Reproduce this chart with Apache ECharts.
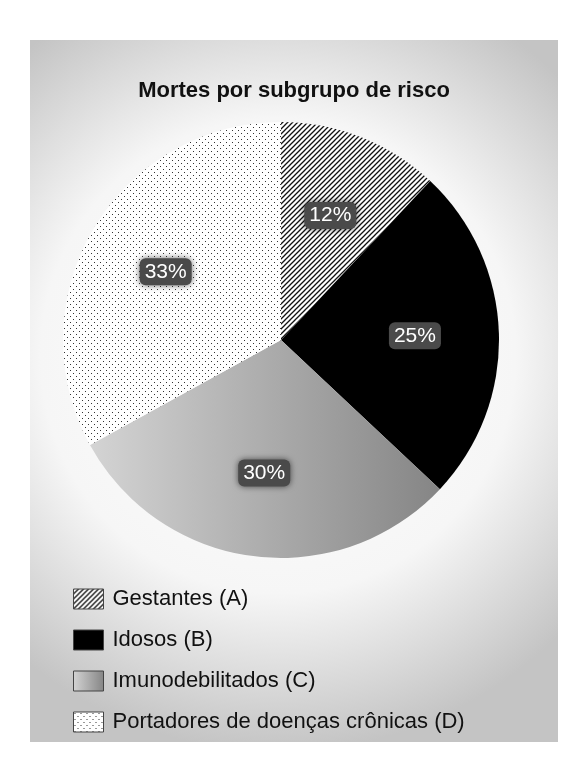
<!DOCTYPE html><html><head><meta charset="utf-8"><script src="https://cdn.jsdelivr.net/npm/echarts@6/dist/echarts.min.js"></script>
<style>html,body{margin:0;background:#fff}#c{width:588px;height:758px}</style></head><body><div id="c"></div><script>
const categories=['Gestantes (A)','Idosos (B)','Imunodebilitados (C)','Portadores de doenças crônicas (D)'];
const values=[12,25,30,33];
function hatch(){const c=document.createElement('canvas');c.width=c.height=5;const g=c.getContext('2d');g.fillStyle='#fff';g.fillRect(0,0,5,5);g.strokeStyle='#111';g.lineWidth=1.3;g.beginPath();g.moveTo(-1,6);g.lineTo(6,-1);g.moveTo(-4,4);g.lineTo(4,-4);g.moveTo(1,9);g.lineTo(9,1);g.stroke();return c;}
function dots(){const c=document.createElement('canvas');c.width=c.height=6;const g=c.getContext('2d');g.fillStyle='#fff';g.fillRect(0,0,6,6);g.fillStyle='#333';g.fillRect(1,1,1,1);g.fillRect(4,4,1,1);return c;}
const colors=[{image:hatch(),repeat:'repeat'},'#000',{type:'linear',x:0,y:0,x2:1,y2:0,colorStops:[{offset:0,color:'#d4d4d4'},{offset:1,color:'#858585'}]},{image:dots(),repeat:'repeat'}];
const ch=echarts.init(document.getElementById('c'));
const data=categories.map((n,i)=>({name:n,value:values[i],itemStyle:{color:colors[i]}}));
const F='Liberation Sans';
ch.setOption({
 animation:false,
 graphic:[{type:'rect',z:-10,shape:{x:30,y:40,width:528,height:702},style:{fill:{type:'radial',x:0.47,y:0.45,r:0.75,colorStops:[{offset:0,color:'#ffffff'},{offset:0.6,color:'#f6f6f6'},{offset:1,color:'#c4c4c4'}]}}}],
 title:{text:'Mortes por subgrupo de risco',left:'center',top:75,textStyle:{fontFamily:F,fontWeight:'bold',fontSize:22,color:'#111'}},
 legend:{orient:'vertical',left:68,top:583,itemWidth:30,itemHeight:20,itemGap:19,icon:'rect',
  itemStyle:{borderColor:'#444',borderWidth:1},
  textStyle:{fontFamily:F,fontSize:22,color:'#111',padding:[0,0,0,4]},data:categories},
 series:[{type:'pie',center:[281,340],radius:218,startAngle:90,clockwise:true,silent:true,
   label:{show:false},labelLine:{show:false},itemStyle:{borderWidth:0},data:data},
  {type:'pie',center:[281,340],radius:262,startAngle:90,clockwise:true,silent:true,legendHoverLink:false,
   itemStyle:{color:'transparent'},
   label:{show:true,position:'inside',formatter:'{c}%',color:'#fff',fontFamily:F,fontSize:21,backgroundColor:'#4a4a4a',borderRadius:6,padding:[3,5],shadowColor:'rgba(0,0,0,0.6)',shadowBlur:6},
   labelLine:{show:false},data:categories.map((n,i)=>({name:n+' ',value:values[i]}))}]
});
</script></body></html>
